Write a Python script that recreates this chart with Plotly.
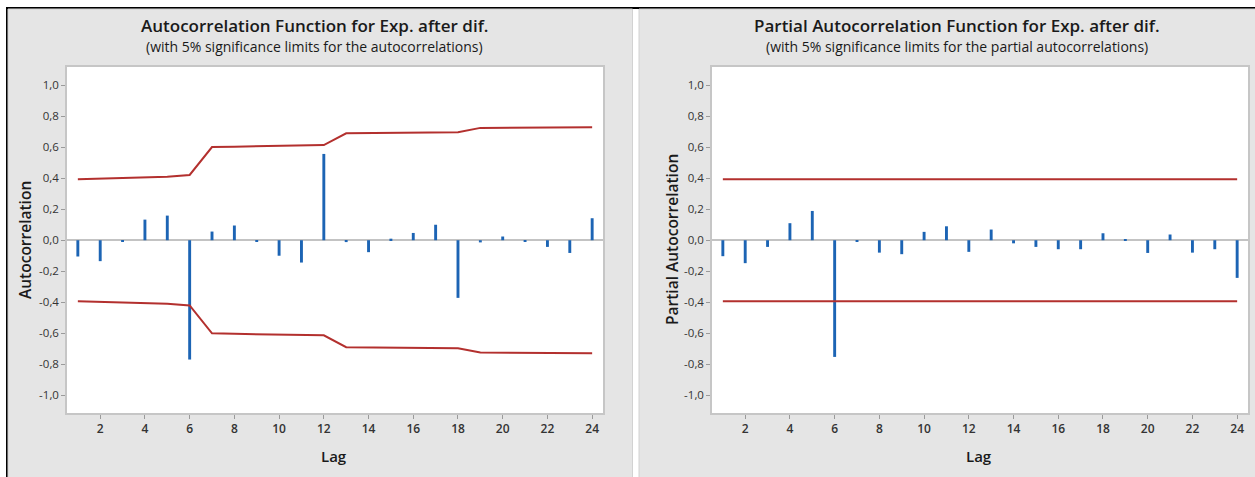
import plotly.graph_objects as go

# ---------------- data ----------------
lags = list(range(1, 25))

acf = [-0.105, -0.135, -0.011, 0.133, 0.159, -0.770, 0.056, 0.095, -0.005, -0.100,
       -0.144, 0.557, -0.012, -0.077, 0.010, 0.047, 0.100, -0.372, -0.014, 0.024,
       -0.008, -0.043, -0.082, 0.142]
acf_upper = [0.394, 0.397, 0.403, 0.404, 0.410, 0.421, 0.601, 0.604, 0.607, 0.607,
             0.609, 0.614, 0.690, 0.691, 0.692, 0.692, 0.694, 0.697, 0.725, 0.725,
             0.725, 0.726, 0.727, 0.729]
acf_lower = [-0.394, -0.397, -0.403, -0.404, -0.410, -0.421, -0.601, -0.604, -0.607, -0.607,
             -0.609, -0.614, -0.690, -0.691, -0.692, -0.692, -0.694, -0.697, -0.725, -0.725,
             -0.725, -0.726, -0.727, -0.729]

pacf = [-0.103, -0.148, -0.043, 0.110, 0.189, -0.753, -0.006, -0.080, -0.090, 0.054,
        0.090, -0.075, 0.069, -0.020, -0.043, -0.058, -0.058, 0.045, 0.002, -0.082,
        0.037, -0.080, -0.058, -0.243]
pacf_limit_lags = [1, 24]
pacf_upper = [0.394, 0.394]
pacf_lower = [-0.394, -0.394]

y_tickvals = [-1.0, -0.8, -0.6, -0.4, -0.2, 0.0, 0.2, 0.4, 0.6, 0.8, 1.0]
y_ticktext = ["-1,0", "-0,8", "-0,6", "-0,4", "-0,2", "0,0", "0,2", "0,4", "0,6", "0,8", "1,0"]
x_tickvals = [2, 4, 6, 8, 10, 12, 14, 16, 18, 20, 22, 24]

titles = ["Autocorrelation Function for Exp. after dif.",
          "Partial Autocorrelation Function for Exp. after dif."]
subtitles = ["(with 5% significance limits for the autocorrelations)",
             "(with 5% significance limits for the partial autocorrelations)"]
ytitles = ["Autocorrelation", "Partial Autocorrelation"]
xtitle = "Lag"

# ---------------- styling / geometry ----------------
W, H = 1255, 477
BAR = "#1c64b4"
LIM = "#b3302e"
PANEL = "#e5e5e5"
FONT = "Open Sans"


def px(x):
    return x / W


def py(y):
    return 1 - y / H


fig = go.Figure()

fig.add_trace(go.Bar(x=lags, y=acf, width=0.13, marker=dict(color=BAR, line=dict(width=0)),
                     xaxis="x", yaxis="y", showlegend=False))
fig.add_trace(go.Scatter(x=lags, y=acf_upper, mode="lines", line=dict(color=LIM, width=2),
                         xaxis="x", yaxis="y", showlegend=False))
fig.add_trace(go.Scatter(x=lags, y=acf_lower, mode="lines", line=dict(color=LIM, width=2),
                         xaxis="x", yaxis="y", showlegend=False))

fig.add_trace(go.Bar(x=lags, y=pacf, width=0.13, marker=dict(color=BAR, line=dict(width=0)),
                     xaxis="x2", yaxis="y2", showlegend=False))
fig.add_trace(go.Scatter(x=pacf_limit_lags, y=pacf_upper, mode="lines", line=dict(color=LIM, width=2),
                         xaxis="x2", yaxis="y2", showlegend=False))
fig.add_trace(go.Scatter(x=pacf_limit_lags, y=pacf_lower, mode="lines", line=dict(color=LIM, width=2),
                         xaxis="x2", yaxis="y2", showlegend=False))

plot_x = [(67, 603), (712, 1248)]
plot_y = (67, 413)

xcommon = dict(range=[0.515, 24.485], tickmode="array", tickvals=x_tickvals,
               ticks="outside", ticklen=4, tickwidth=1, tickcolor="#9a9a9a",
               showline=True, mirror=True, linecolor="#c6c6c6", linewidth=1.5,
               showgrid=False, zeroline=False,
               tickfont=dict(family=FONT, size=12, color="#333333", weight=600))
ycommon = dict(range=[-1.115, 1.118], tickmode="array", tickvals=y_tickvals, ticktext=y_ticktext,
               ticks="outside", ticklen=4, tickwidth=1, tickcolor="#9a9a9a",
               showline=True, mirror=True, linecolor="#c6c6c6", linewidth=1.5,
               showgrid=False, zeroline=True, zerolinecolor="#c3c3c3", zerolinewidth=1.5,
               tickfont=dict(family=FONT, size=11.5, color="#333333"))

fig.update_layout(
    width=W, height=H, margin=dict(l=0, r=0, t=0, b=0),
    paper_bgcolor="white", plot_bgcolor="white", showlegend=False,
    xaxis=dict(domain=[px(plot_x[0][0]), px(plot_x[0][1])], anchor="y", **xcommon),
    yaxis=dict(domain=[py(plot_y[1]), py(plot_y[0])], anchor="x", **ycommon),
    xaxis2=dict(domain=[px(plot_x[1][0]), px(plot_x[1][1])], anchor="y2", **xcommon),
    yaxis2=dict(domain=[py(plot_y[1]), py(plot_y[0])], anchor="x2", **ycommon),
)

shapes = []
# black frame lines (top and left)
shapes.append(dict(type="rect", xref="paper", yref="paper", x0=px(6), x1=1, y0=py(9), y1=py(7),
                   fillcolor="black", line=dict(width=0), layer="below"))
shapes.append(dict(type="rect", xref="paper", yref="paper", x0=px(6), x1=px(8), y0=0, y1=py(7),
                   fillcolor="black", line=dict(width=0), layer="below"))
# gray panels
for x0, x1 in [(8, 632.5), (639, 1256)]:
    shapes.append(dict(type="rect", xref="paper", yref="paper", x0=px(x0), x1=px(x1), y0=-0.01, y1=py(9),
                       fillcolor=PANEL, line=dict(color="#d2d2d2", width=1), layer="below"))
# white plot areas
for x0, x1 in plot_x:
    shapes.append(dict(type="rect", xref="paper", yref="paper", x0=px(x0), x1=px(x1),
                       y0=py(plot_y[1]), y1=py(plot_y[0]),
                       fillcolor="white", line=dict(width=0), layer="below"))
fig.update_layout(shapes=shapes)

ann = []
title_cx = [314, 957]
for i in range(2):
    ann.append(dict(text=titles[i], x=px(title_cx[i]), y=py(25), xref="paper", yref="paper",
                    xanchor="center", yanchor="middle", showarrow=False,
                    font=dict(family=FONT, size=17, color="#1a1a1a", weight=600)))
    ann.append(dict(text=subtitles[i], x=px(title_cx[i]), y=py(46), xref="paper", yref="paper",
                    xanchor="center", yanchor="middle", showarrow=False,
                    font=dict(family=FONT, size=14, color="#1a1a1a")))
ytitle_x = [25, 672]
for i in range(2):
    ann.append(dict(text=ytitles[i], x=px(ytitle_x[i]), y=py(240), xref="paper", yref="paper",
                    xanchor="center", yanchor="middle", showarrow=False, textangle=-90,
                    font=dict(family=FONT, size=15.5, color="#1a1a1a", weight=600)))
lag_cx = [334, 979]
for i in range(2):
    ann.append(dict(text=xtitle, x=px(lag_cx[i]), y=py(456), xref="paper", yref="paper",
                    xanchor="center", yanchor="middle", showarrow=False,
                    font=dict(family=FONT, size=15, color="#1a1a1a", weight=600)))
fig.update_layout(annotations=ann)

fig.write_html("out.html", config={"displayModeBar": False},
               post_script="document.body.style.margin='0px';")
